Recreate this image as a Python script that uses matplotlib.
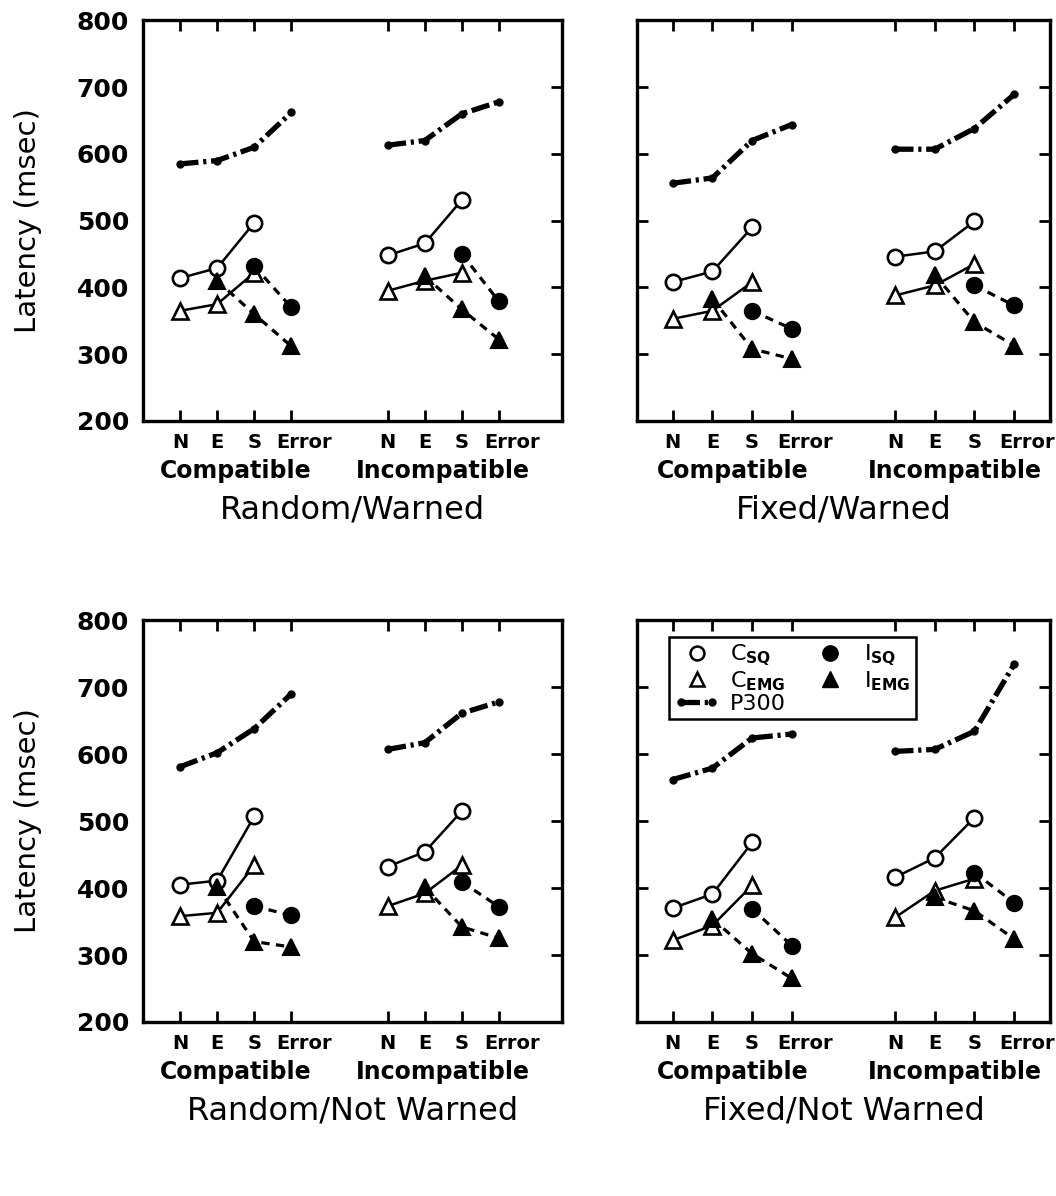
import matplotlib
matplotlib.use("Agg")
import matplotlib.pyplot as plt
import matplotlib.transforms as mtransforms
from matplotlib.lines import Line2D
from matplotlib.legend_handler import HandlerLine2D

plt.rcParams['font.family'] = 'DejaVu Sans'

# ---- data (latency in msec) ----
panel_titles = ['Random/Warned', 'Fixed/Warned', 'Random/Not Warned', 'Fixed/Not Warned']
cond_labels = ['N', 'E', 'S', 'Error']
group_labels = ['Compatible', 'Incompatible']
x_comp = [1, 2, 3, 4]
x_inc = [6.6, 7.6, 8.6, 9.6]

# P300: N, E, S, Error
p300_comp = [[585, 590, 610, 662], [556, 564, 620, 644], [581, 602, 638, 690], [562, 579, 624, 630]]
p300_inc = [[613, 620, 660, 678], [607, 607, 638, 689], [607, 617, 661, 678], [604, 607, 634, 734]]
# C_SQ: N, E, S
csq_comp = [[414, 429, 497], [408, 424, 490], [405, 411, 507], [370, 391, 468]]
csq_inc = [[448, 466, 531], [446, 454, 499], [432, 454, 515], [416, 445, 505]]
# C_EMG: N, E, S
cemg_comp = [[365, 375, 422], [353, 365, 408], [358, 363, 434], [322, 344, 404]]
cemg_inc = [[395, 410, 422], [388, 403, 435], [373, 392, 434], [356, 396, 414]]
# I_SQ: S, Error
isq_comp = [[432, 370], [365, 338], [373, 359], [369, 314]]
isq_inc = [[450, 379], [403, 373], [409, 372], [423, 378]]
# I_EMG: E, S, Error
iemg_comp = [[410, 360, 312], [383, 308, 293], [402, 320, 312], [354, 302, 265]]
iemg_inc = [[417, 367, 322], [419, 348, 313], [401, 342, 325], [386, 366, 324]]

fig = plt.figure(figsize=(10.56, 11.96), dpi=100)
axes_pos = [[0.1354, 0.648, 0.3968, 0.335], [0.6032, 0.648, 0.391, 0.335],
            [0.1354, 0.1455, 0.3968, 0.336], [0.6032, 0.1455, 0.391, 0.336]]
xlims = [(0, 11.3), (0.1, 10.5), (0, 11.3), (0.1, 10.5)]

p300_kw = dict(color='k', lw=3.8, dashes=(3.5, 0.9, 0.6, 0.9), marker='o', ms=5,
               dash_capstyle='butt')
open_kw = dict(color='k', lw=1.8, ms=11, mew=1.9, mfc='white', mec='k')
fill_kw = dict(color='k', lw=2.3, dashes=(2.6, 2.0), ms=11, mew=1.5, mfc='k', mec='k')

for i, pos in enumerate(axes_pos):
    ax = fig.add_axes(pos)
    ax.plot(x_comp, p300_comp[i], **p300_kw)
    ax.plot(x_inc, p300_inc[i], **p300_kw)
    for xs, cs, ce, is_, ie in [(x_comp, csq_comp[i], cemg_comp[i], isq_comp[i], iemg_comp[i]),
                                (x_inc, csq_inc[i], cemg_inc[i], isq_inc[i], iemg_inc[i])]:
        ax.plot(xs[:3], cs, marker='o', **open_kw)
        ax.plot(xs[:3], ce, marker='^', **open_kw)
        ax.plot(xs[2:], is_, marker='o', **fill_kw)
        ax.plot(xs[1:], ie, marker='^', **fill_kw)

    ax.set_xlim(*xlims[i])
    ax.set_ylim(200, 800)
    ax.set_yticks([200, 300, 400, 500, 600, 700, 800])
    ax.set_xticks(x_comp + x_inc)
    ax.set_xticklabels([])
    ax.tick_params(axis='x', direction='in', top=True, bottom=True, length=8, width=2)
    if i % 2 == 0:
        ax.tick_params(axis='y', direction='in', left=False, right=True, length=8, width=2,
                       labelsize=18, pad=10)
        for lbl in ax.get_yticklabels():
            lbl.set_fontweight('bold')
        ax.set_ylabel('Latency (msec)', fontsize=21)
        ax.yaxis.set_label_coords(-0.24, 0.5)
    else:
        ax.tick_params(axis='y', direction='in', left=True, right=True, length=8, width=2,
                       labelleft=False)
    for sp in ax.spines.values():
        sp.set_linewidth(2.4)

    # category labels under the ticks ("Error" sits a little right of its tick)
    tr = mtransforms.blended_transform_factory(ax.transData, ax.transAxes)
    tr_err = tr + mtransforms.ScaledTranslation(0.13, 0, fig.dpi_scale_trans)
    for xs in (x_comp, x_inc):
        for x, lab in zip(xs, cond_labels):
            ax.text(x, -0.03, lab, transform=tr_err if lab == 'Error' else tr,
                    ha='center', va='top', fontsize=14, fontweight='bold')
    ax.text(sum(x_comp) / 4, -0.124, group_labels[0], transform=tr, ha='center', va='center',
            fontsize=17, fontweight='bold')
    ax.text(sum(x_inc) / 4, -0.124, group_labels[1], transform=tr, ha='center', va='center',
            fontsize=17, fontweight='bold')
    ax.text(0.5, -0.222, panel_titles[i], transform=ax.transAxes, ha='center', va='center',
            fontsize=23)

    if i == 3:
        handles = [
            Line2D([], [], ls='none', marker='o', ms=10, mew=1.8, mfc='white', mec='k'),
            Line2D([], [], ls='none', marker='^', ms=10, mew=1.8, mfc='white', mec='k'),
            Line2D([], [], **p300_kw),
            Line2D([], [], ls='none', marker='o', ms=11, mfc='k', mec='k'),
            Line2D([], [], ls='none', marker='^', ms=11, mfc='k', mec='k'),
        ]
        labels = [r'C$_{\mathbf{SQ}}$', r'C$_{\mathbf{EMG}}$', 'P300',
                  r'I$_{\mathbf{SQ}}$', r'I$_{\mathbf{EMG}}$']
        leg = ax.legend(handles, labels, ncol=2, loc='upper left',
                        bbox_to_anchor=(0.077, 0.958), borderaxespad=0, fontsize=16,
                        fancybox=False, framealpha=1, edgecolor='k', labelspacing=0.05,
                        handlelength=2.0, handletextpad=0.5, columnspacing=1.0,
                        borderpad=0.25,
                        handler_map={handles[2]: HandlerLine2D(numpoints=2)})
        leg.get_frame().set_linewidth(1.8)

fig.savefig('out.png', dpi=100)
